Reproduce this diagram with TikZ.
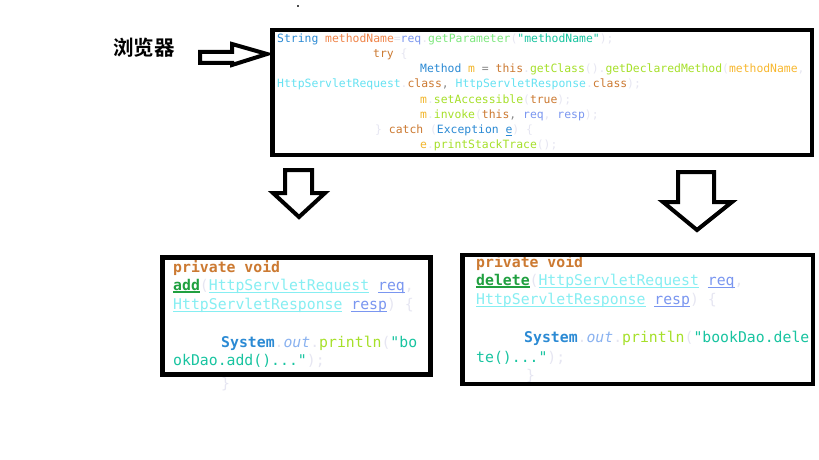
\documentclass[tikz,border=0pt]{standalone}
\usepackage{fontspec}
\newfontfamily\codefont{DejaVu Sans Mono}
\newfontfamily\cjkfont{Noto Sans CJK SC}[BoldFont={Noto Sans CJK SC Bold}]

\definecolor{typc}{HTML}{2B8AD4}
\definecolor{varc}{HTML}{F0854A}
\definecolor{refc}{HTML}{7A96F0}
\definecolor{getc}{HTML}{7EE87E}
\definecolor{metc}{HTML}{A6E02A}
\definecolor{strc}{HTML}{18C4A0}
\definecolor{kwc}{HTML}{CC7A32}
\definecolor{clsc}{HTML}{66E2F2}
\definecolor{clsb}{HTML}{86EEF2}
\definecolor{locc}{HTML}{F2B62C}
\definecolor{argc}{HTML}{F8B830}
\definecolor{palec}{HTML}{E6E6F2}
\definecolor{commac}{HTML}{8A8A8A}
\definecolor{outc}{HTML}{8AB2F0}
\definecolor{namec}{HTML}{20A040}

\newsavebox\ulbox
\newcommand\codeul[2][0.9pt]{\sbox\ulbox{#2}\rlap{\rule[-2.6pt]{\wd\ulbox}{#1}}\usebox\ulbox}
\newcommand\pc[1]{\textcolor{palec}{#1}}
\newcommand\ty[1]{\textcolor{typc}{#1}}
\newcommand\kw[1]{\textcolor{kwc}{#1}}
\newcommand\rf[1]{\textcolor{refc}{#1}}
\newcommand\mt[1]{\textcolor{metc}{#1}}
\newcommand\st[1]{\textcolor{strc}{#1}}
\newcommand\lo[1]{\textcolor{locc}{#1}}

\tikzset{
	codeline/.style={anchor=base west, inner sep=0pt, font=\codefont\fontsize{11.4}{15}\selectfont},
	bigcode/.style={anchor=base west, inner sep=0pt, font=\codefont\fontsize{14.8}{19}\selectfont},
	frame/.style={draw=black, line width=4.5pt},
	blockarrow/.style={draw=black, line width=4pt, fill=white, line join=miter},
}

\begin{document}
\begin{tikzpicture}[x=1pt, y=-1pt]
			%%%%% START %%%%%
			\useasboundingbox[fill=white] (0,0) rectangle (819,460);
			\fill[black!70] (297,5) rectangle (299,7);
			
			\node[font=\cjkfont\bfseries\fontsize{20.5}{21}\selectfont, inner sep=0pt] (browser) at (144,48) {浏览器};
			\draw[blockarrow] (200,52) -- (232,52) -- (232,44) -- (267,54) -- (232,65) -- (232,63) -- (200,63) -- cycle;
			
			% dispatcher
			\node[codeline] (t1) at (277,43) {\ty{String} \textcolor{varc}{methodName}\pc{=}\rf{req}\pc{.}\textcolor{getc}{getParameter}\pc{(}\st{"methodName"}\pc{);}};
			\node[codeline] (t2) at (373,58) {\kw{try} \pc{\{}};
			\node[codeline] (t3) at (420,73) {\ty{Method} \lo{m} \textcolor{commac}{=} \kw{this}\pc{.}\mt{getClass}\pc{()}\pc{.}\mt{getDeclaredMethod}\pc{(}\textcolor{argc}{methodName}\pc{,}};
			\node[codeline] (t4) at (277,88) {\textcolor{clsc}{HttpServletRequest}\pc{.}\kw{class}\textcolor{commac}{,} \textcolor{clsc}{HttpServletResponse}\pc{.}\kw{class}\pc{);}};
			\node[codeline] (t5) at (420,103) {\lo{m}\pc{.}\mt{setAccessible}\pc{(}\kw{true}\pc{);}};
			\node[codeline] (t6) at (420,118) {\lo{m}\pc{.}\mt{invoke}\pc{(}\kw{this}\textcolor{commac}{,} \rf{req}\pc{,} \rf{resp}\pc{);}};
			\node[codeline] (t7) at (375,133) {\pc{\}} \kw{catch} \pc{(}\ty{Exception} \ty{\codeul[0.7pt]{e}}\pc{)} \pc{\{}};
			\node[codeline] (t8) at (420,148) {\lo{e}\pc{.}\mt{printStackTrace}\pc{();}};
			
			\draw[blockarrow] (285,170) -- (312,170) -- (312,193) -- (325,193) -- (299,217) -- (273,193) -- (285,193) -- cycle;
			\draw[blockarrow] (678,172) -- (714,172) -- (714,202) -- (732,202) -- (697,230) -- (663,202) -- (678,202) -- cycle;
			
			% add
			\node[bigcode] (a1) at (173,272) {\kw{\bfseries private void}};
			\node[bigcode] (a2) at (173,290) {\textcolor{namec}{\codeul[1.8pt]{\bfseries add}}\pc{(}\textcolor{clsb}{\codeul{HttpServletRequest}} \rf{\codeul{req}}\pc{,}};
			\node[bigcode] (a3) at (173,309) {\textcolor{clsb}{\codeul{HttpServletResponse}} \rf{\codeul{resp}}\pc{)} \pc{\{}};
			\node[bigcode] (a4) at (221,347) {\ty{\bfseries System}\pc{.}\textcolor{outc}{\itshape out}\pc{.}\mt{println}\pc{(}\st{"bo}};
			\node[bigcode] (a5) at (173,365) {\st{okDao.add()..."}\pc{);}};
			\node[bigcode] (a6) at (221,388) {\pc{\}}};
			
			% delete
			\node[bigcode] (d1) at (476,267) {\kw{\bfseries private void}};
			\node[bigcode] (d2) at (476,285) {\textcolor{namec}{\codeul[1.8pt]{\bfseries delete}}\pc{(}\textcolor{clsb}{\codeul{HttpServletRequest}} \rf{\codeul{req}}\pc{,}};
			\node[bigcode] (d3) at (476,304) {\textcolor{clsb}{\codeul{HttpServletResponse}} \rf{\codeul{resp}}\pc{)} \pc{\{}};
			\node[bigcode] (d4) at (524,342) {\ty{\bfseries System}\pc{.}\textcolor{outc}{\itshape out}\pc{.}\mt{println}\pc{(}\st{"bookDao.dele}};
			\node[bigcode] (d5) at (476,362) {\st{te()..."}\pc{);}};
			\node[bigcode] (d6) at (526,380) {\pc{\}}};
			
			\draw[frame] (272.5,30) rectangle (812,155);
			\draw[frame] (162.5,257.5) rectangle (430.5,374.5);
			\draw[frame] (462.5,255) rectangle (813,384);
			%%%%% END %%%%%
\end{tikzpicture}
\end{document}
